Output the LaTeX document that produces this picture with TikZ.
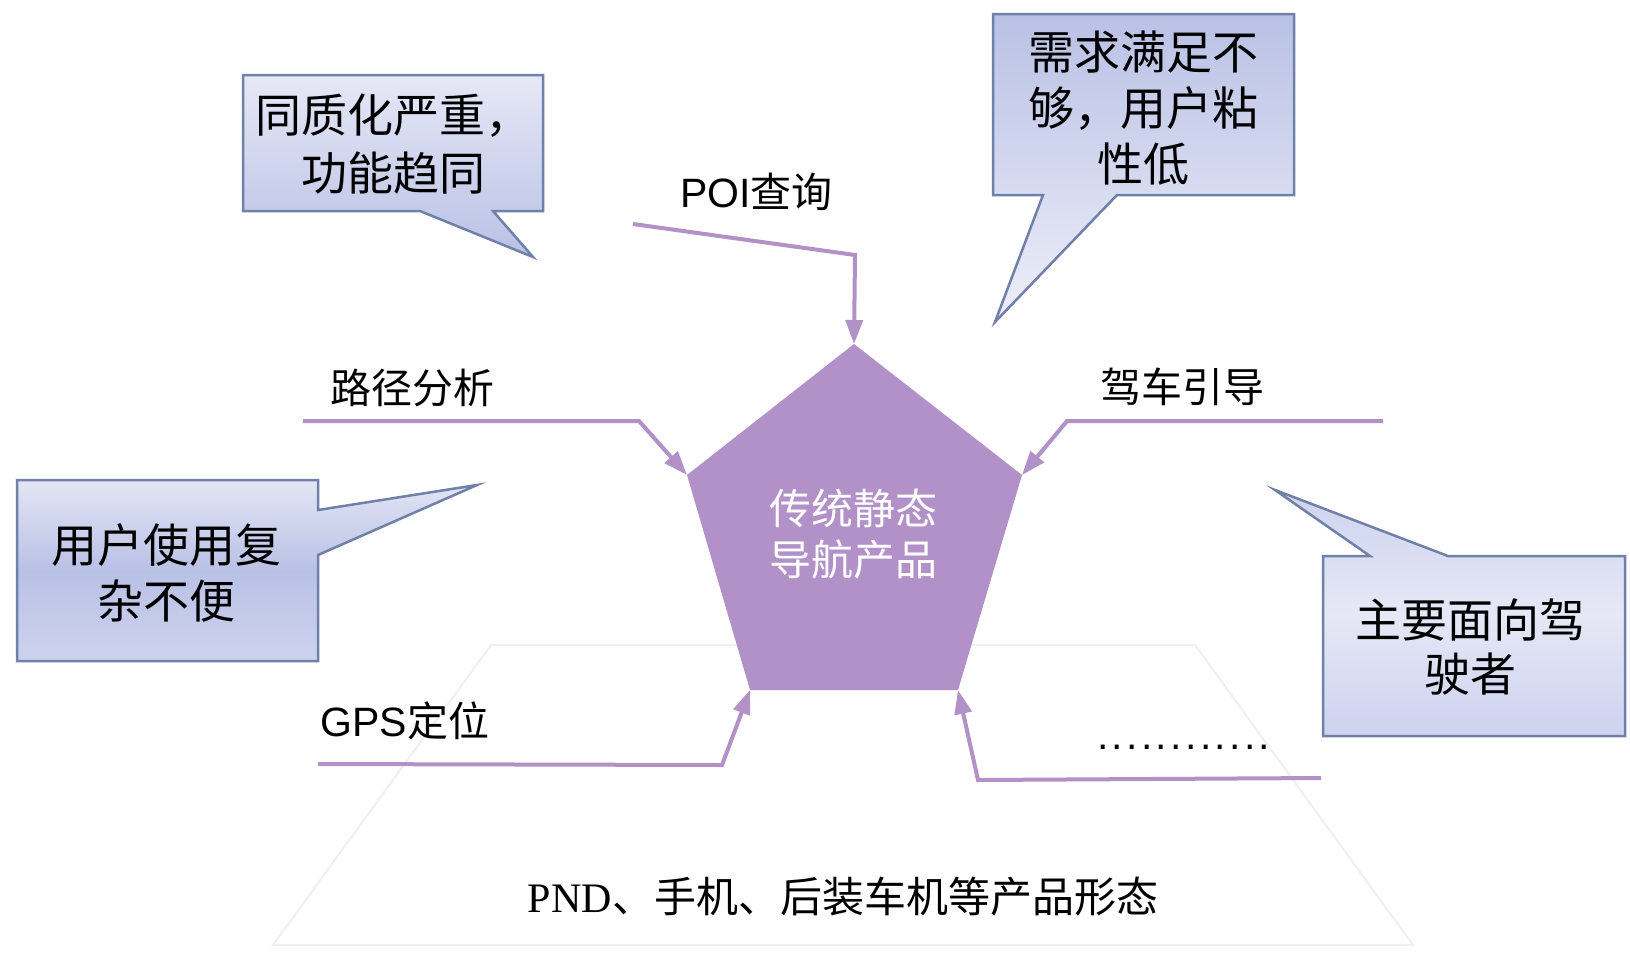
\documentclass[tikz,border=0pt]{standalone}
\usepackage{fontspec}
\setmainfont{Liberation Serif}
\newfontfamily\cjk{Noto Sans CJK SC}
\newfontfamily\arialf{Liberation Sans}
\newfontfamily\timesf{Liberation Serif}
\usetikzlibrary{arrows.meta}
\definecolor{purp}{HTML}{B191C8}
\definecolor{cborder}{HTML}{7080A8}
\definecolor{clight}{HTML}{E6E8F6}
\definecolor{cmid}{HTML}{CDD2EE}
\definecolor{cdark}{HTML}{B9C1E5}
\definecolor{trap}{HTML}{F0F0F0}
\tikzset{
  flow/.style={draw=purp, line width=4pt, -{Triangle[length=24pt,width=17pt]}},
  callout/.style={draw=cborder, line width=2.5pt, line join=miter},
  ctext/.style={inner sep=0pt, align=center, font={\cjk\fontsize{46}{56}\selectfont}},
  lbl/.style={inner sep=0pt, font={\cjk\fontsize{41}{48}\selectfont}},
}
\begin{document}
\begin{tikzpicture}[x=1pt,y=-1pt]
\useasboundingbox (0,0) rectangle (1630,954);
\fill[white] (0,0) rectangle (1630,954);

% faint trapezoid
\draw[trap, line width=2pt] (491,645) -- (1195,645) -- (1413,945) -- (273,945) -- cycle;

% pentagon
\coordinate (pT) at (854,344);
\coordinate (pR) at (1022,475);
\coordinate (pBR) at (958,690);
\coordinate (pBL) at (750,690);
\coordinate (pL) at (687,475);
\fill[purp] (pT) -- (pR) -- (pBR) -- (pBL) -- (pL) -- cycle;
\node[inner sep=0pt, align=center, text=white, font={\cjk\fontsize{42}{51}\selectfont}] (core) at (853.5,534.5) {传统静态\\导航产品};

% callouts
\shade[callout, top color=clight, bottom color=cdark]
  (243,75) -- (543,75) -- (543,211) -- (493,211) -- (533,257) -- (420,211) -- (243,211) -- cycle;
\node[ctext, font={\cjk\fontsize{46}{57.5}\selectfont}] (c1) at (393,144) {同质化严重，\\功能趋同};

\shade[callout, top color=cdark, bottom color=clight!70!white]
  (993,14) -- (1294,14) -- (1294,195) -- (1117,195) -- (995,322) -- (1043,195) -- (993,195) -- cycle;
\node[ctext] (c2) at (1143,108) {需求满足不\\够，用户粘\\性低};

\shade[callout, top color=clight!90!cmid, bottom color=cmid, middle color=cdark]
  (17,480) -- (318,480) -- (318,510) -- (477,485) -- (318,555) -- (318,661) -- (17,661) -- cycle;
\node[ctext, font={\cjk\fontsize{46}{56}\selectfont}] (c3) at (166,573) {用户使用复\\杂不便};

\shade[callout, top color=cmid, bottom color=cmid, middle color=clight]
  (1323,556) -- (1370,556) -- (1275,490) -- (1448,556) -- (1625,556) -- (1625,736) -- (1323,736) -- cycle;
\node[ctext, font={\cjk\fontsize{46}{54.5}\selectfont}] (c4) at (1470,647) {主要面向驾\\驶者};

% labels
\node[lbl] (poi) at (756.5,192) {{\arialf POI}查询};
\node[lbl] (route) at (412.5,387.5) {路径分析};
\node[lbl] (drive) at (1182.5,386.5) {驾车引导};
\node[lbl] (gps) at (405,720.5) {{\arialf GPS}定位};
\node[inner sep=0pt, anchor=base west, font={\arialf\fontsize{41}{48}\selectfont}] (more) at (1097,749)
  {.\kern3.3pt.\kern3.3pt.\kern3.3pt.\kern3.3pt.\kern3.3pt.\kern3.3pt.\kern3.3pt.\kern3.3pt.\kern3.3pt.\kern3.3pt.\kern3.3pt.};
\node[inner sep=0pt, font={\cjk\fontsize{42}{48}\selectfont}] (forms) at (843,897) {{\timesf PND}、手机、后装车机等产品形态};

% arrow start points
\coordinate (sPoi) at (633,224);
\coordinate (kPoi1) at (855,255);
\coordinate (sRoute) at (303,421);
\coordinate (kRoute) at (639,421);
\coordinate (sDrive) at (1383,421);
\coordinate (kDrive) at (1067,421);
\coordinate (sGps) at (318,764);
\coordinate (kGps) at (722,765);
\coordinate (sMore) at (1321,778);
\coordinate (kMore) at (978,780);

\draw[flow] (sPoi) -- (kPoi1) -- (pT);
\draw[flow] (sRoute) -- (kRoute) -- (pL);
\draw[flow] (sDrive) -- (kDrive) -- (pR);
\draw[flow] (sGps) -- (kGps) -- (pBL);
\draw[flow] (sMore) -- (kMore) -- (pBR);
\end{tikzpicture}
\end{document}
